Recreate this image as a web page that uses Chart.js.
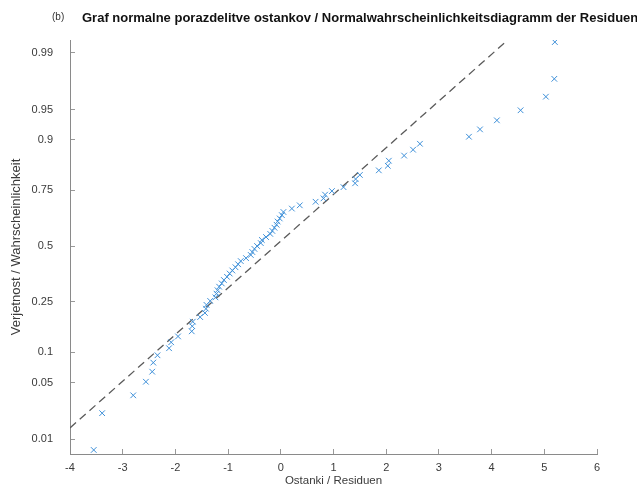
<!DOCTYPE html>
<html>
<head>
<meta charset="utf-8">
<script src="https://cdn.jsdelivr.net/npm/chart.js@4.4.1/dist/chart.umd.min.js"></script>
<style>
    html, body { margin: 0; padding: 0; background: #fff; }
    #wrap { width: 637px; height: 488px; position: relative; }
</style>
</head>
<body>
<div id="wrap"><canvas id="normCanvas" width="637" height="488"></canvas></div>
<script>
// ostanki (residuals), razvrščeni
const residuals = [
    -3.55, -3.39, -2.80, -2.56, -2.44, -2.42, -2.34, -2.12, -2.08, -1.95,
    -1.69, -1.68, -1.67, -1.53, -1.44, -1.42, -1.41, -1.34, -1.24, -1.22,
    -1.20, -1.17, -1.12, -1.08, -1.02, -0.97, -0.92, -0.86, -0.81, -0.76,
    -0.66, -0.57, -0.54, -0.50, -0.45, -0.38, -0.36, -0.28, -0.20, -0.16,
    -0.12, -0.08, -0.06, -0.02, 0.02, 0.05, 0.21, 0.36, 0.66, 0.81,
    0.84, 0.97, 1.19, 1.41, 1.42, 1.50, 1.86, 2.03, 2.05, 2.34,
    2.51, 2.64, 3.57, 3.78, 4.10, 4.55, 5.03, 5.19, 5.20
];
// verjetnosti za vsak ostanek
const probabilities = [
    0.007, 0.022, 0.036, 0.051, 0.065, 0.080, 0.094, 0.109, 0.123, 0.138,
    0.152, 0.167, 0.181, 0.196, 0.210, 0.225, 0.239, 0.254, 0.268, 0.283,
    0.297, 0.312, 0.326, 0.341, 0.355, 0.370, 0.384, 0.399, 0.413, 0.428,
    0.442, 0.457, 0.471, 0.486, 0.500, 0.514, 0.529, 0.543, 0.558, 0.572,
    0.587, 0.601, 0.616, 0.630, 0.645, 0.659, 0.674, 0.688, 0.703, 0.717,
    0.732, 0.746, 0.761, 0.775, 0.790, 0.804, 0.819, 0.833, 0.848, 0.862,
    0.877, 0.891, 0.906, 0.920, 0.935, 0.949, 0.964, 0.978, 0.993
];
// referenčna premica (dva konca)
const refLineX = [-4, 4.30];
const refLineP = [0.0142, 0.9934];
// oznake na osi y
const probTicks = [0.01, 0.05, 0.1, 0.25, 0.5, 0.75, 0.9, 0.95, 0.99];
const probTickLabels = ["0.01", "0.05", "0.1", "0.25", "0.5", "0.75", "0.9", "0.95", "0.99"];

// inverz normalne porazdelitve (Acklam)
function probit(p) {
    const a = [-39.69683028665376, 220.9460984245205, -275.9285104469687, 138.3577518672690, -30.66479806614716, 2.506628277459239];
    const b = [-54.47609879822406, 161.5858368580409, -155.6989798598866, 66.80131188771972, -13.28068155288572];
    const c = [-0.007784894002430293, -0.3223964580411365, -2.400758277161838, -2.549732539343734, 4.374664141464968, 2.938163982698783];
    const d = [0.007784695709041462, 0.3224671290700398, 2.445134137142996, 3.754408661907416];
    const pl = 0.02425;
    let q, r;
    if (p < pl) {
        q = Math.sqrt(-2 * Math.log(p));
        return (((((c[0]*q+c[1])*q+c[2])*q+c[3])*q+c[4])*q+c[5]) / ((((d[0]*q+d[1])*q+d[2])*q+d[3])*q+1);
    }
    if (p > 1 - pl) {
        q = Math.sqrt(-2 * Math.log(1 - p));
        return -(((((c[0]*q+c[1])*q+c[2])*q+c[3])*q+c[4])*q+c[5]) / ((((d[0]*q+d[1])*q+d[2])*q+d[3])*q+1);
    }
    q = p - 0.5;
    r = q * q;
    return (((((a[0]*r+a[1])*r+a[2])*r+a[3])*r+a[4])*r+a[5])*q / (((((b[0]*r+b[1])*r+b[2])*r+b[3])*r+b[4])*r+1);
}

const points = residuals.map((x, i) => ({ x: x, y: probit(probabilities[i]) }));
const refPoints = refLineX.map((x, i) => ({ x: x, y: probit(refLineP[i]) }));

const textColor = "#3a3a3a";
const fontFamily = "Liberation Sans, Arial, sans-serif";
const axisFont = { family: fontFamily, size: 11 };

// naslov in oznaka (b)
const headerPlugin = {
    id: "header",
    afterDraw(chart) {
        const ctx = chart.ctx;
        ctx.save();
        ctx.textBaseline = "middle";
        ctx.fillStyle = "#333";
        ctx.font = "10px " + fontFamily;
        ctx.textAlign = "left";
        ctx.fillText("(b)", 52, 17);
        ctx.fillStyle = "#111";
        ctx.font = "bold 13px " + fontFamily;
        ctx.fillText("Graf normalne porazdelitve ostankov / Normalwahrscheinlichkeitsdiagramm der Residuen", 82, 18);
        ctx.restore();
    }
};

const normCanvas = document.getElementById("normCanvas");

const normChart = new Chart(normCanvas, {
    type: "scatter",
    data: {
        datasets: [{
            label: "Ostanki",
            data: points,
            pointStyle: "crossRot",
            pointRadius: 4,
            pointHoverRadius: 4,
            borderWidth: 1,
            borderColor: "#3d8fd8",
            backgroundColor: "#3d8fd8",
        }, {
            label: "Premica",
            type: "line",
            data: refPoints,
            borderColor: "#5a5a5a",
            borderWidth: 1.3,
            borderDash: [8, 5],
            pointRadius: 0,
            fill: false,
            tension: 0,
        }],
    },
    options: {
        responsive: false,
        animation: false,
        layout: {
            padding: { top: 40, right: 40, left: 0, bottom: 0 },
        },
        plugins: {
            legend: { display: false },
            tooltip: { enabled: false },
        },
        scales: {
            x: {
                type: "linear",
                min: -4,
                max: 6,
                afterFit(scale) { scale.height = 34; },
                ticks: {
                    stepSize: 1,
                    color: textColor,
                    font: axisFont,
                    padding: 12,
                },
                grid: {
                    drawOnChartArea: false,
                    tickLength: -5,
                    color: "#999",
                },
                border: { color: "#8a8a8a", width: 1 },
                title: {
                    display: true,
                    text: "Ostanki / Residuen",
                    color: textColor,
                    font: { family: fontFamily, size: 11.5 },
                    padding: { top: 0, bottom: 0 },
                },
            },
            y: {
                type: "linear",
                min: -2.506,
                max: 2.482,
                afterFit(scale) { scale.width = 70; },
                afterBuildTicks(scale) {
                    scale.ticks = probTicks.map(p => ({ value: probit(p) }));
                },
                ticks: {
                    color: textColor,
                    font: axisFont,
                    padding: 22,
                    callback: (value, index) => probTickLabels[index],
                },
                grid: {
                    drawOnChartArea: false,
                    tickLength: -5,
                    color: "#999",
                },
                border: { color: "#8a8a8a", width: 1 },
                title: {
                    display: true,
                    text: "Verjetnost / Wahrscheinlichkeit",
                    color: textColor,
                    font: { family: fontFamily, size: 13 },
                    padding: { top: 9, bottom: 0 },
                },
            },
        },
    },
    plugins: [headerPlugin],
});
</script>
</body>
</html>
